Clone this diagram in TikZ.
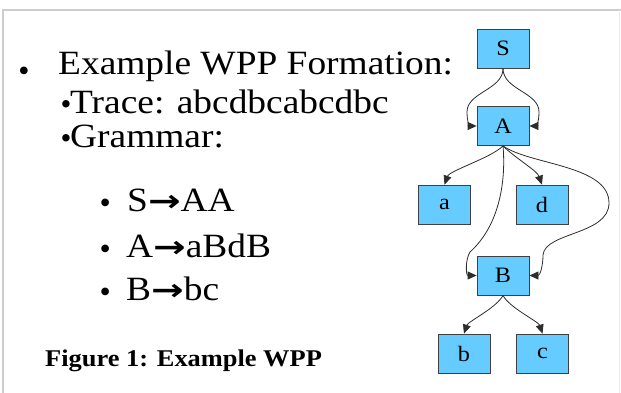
\documentclass[tikz,border=0pt]{standalone}
\usepackage{fontspec}
\setmainfont{Liberation Serif}
\newfontfamily\slidefont[FakeStretch=1.1]{Liberation Serif}
\newfontfamily\arrowfont{DejaVu Sans}
\usetikzlibrary{arrows.meta}
\definecolor{boxblue}{RGB}{102,204,255}
\definecolor{edgegray}{RGB}{45,45,45}
\definecolor{framegray}{RGB}{205,205,205}
\newcommand{\prodarrow}{{\arrowfont\fontsize{30}{30}\selectfont\bfseries\scalebox{1.3}[1]{→}}}
\tikzset{
  gnode/.style={draw=black!75, fill=boxblue, minimum width=52pt, minimum height=39pt,
    inner sep=0pt, line width=0.8pt, font=\slidefont\fontsize{22}{24}\selectfont},
  edge/.style={draw=edgegray, line width=0.8pt, -{Triangle[length=9pt,width=8pt]}},
  lvltext/.style={anchor=base west, inner sep=0pt, font=\slidefont\fontsize{34}{40}\selectfont},
  bulA/.style={anchor=base west, inner sep=0pt, font=\fontsize{32}{34}\selectfont},
  bulB/.style={anchor=base west, inner sep=0pt, font=\fontsize{31}{33}\selectfont},
  captext/.style={anchor=base west, inner sep=0pt, font=\slidefont\bfseries\fontsize{24}{28}\selectfont},
  frameline/.style={draw=framegray, line width=2pt}
}
\begin{document}
\begin{tikzpicture}[x=1pt,y=-1pt]
\useasboundingbox (0,0) rectangle (621,393);
% frame
\draw[frameline] (3,393) -- (3,10) -- (621,10);
\draw[draw=black!8, line width=0.8pt] (619,10) -- (619,393);

% text
\node[bulA] (b1) at (18.1,81.3) {•};
\node[lvltext] (t1) at (58,75) {Example WPP Formation:};
\node[bulB] (b2) at (60.5,114.5) {•};
\node[lvltext] (t2) at (70,113.5) {Trace: abcdbcabcdbc};
\node[bulB] (b3) at (60.5,148.5) {•};
\node[lvltext] (t3) at (70,147.5) {Grammar:};
\node[bulA] (b4) at (99.4,213.6) {•};
\node[lvltext] (t4) at (127,211) {S\prodarrow AA};
\node[bulA] (b5) at (99.4,259.6) {•};
\node[lvltext] (t5) at (126,257) {A\prodarrow aBdB};
\node[bulA] (b6) at (99.4,302.6) {•};
\node[lvltext] (t6) at (126,300) {B\prodarrow bc};
\node[captext] (cap) at (45,366) {Figure 1: Example WPP};

% graph nodes
\node[gnode] (S) at (503,48.5) {S};
\node[gnode] (A) at (503,126) {A};
\node[gnode] (a) at (444.5,204.5) {a};
\node[gnode] (d) at (542,204.5) {d};
\node[gnode] (B) at (503,275.5) {B};
\node[gnode] (b) at (464,353.5) {b};
\node[gnode] (c) at (542.5,353.5) {c};

% edges
\draw[edge] (S.south) .. controls (503,90) and (467,92) .. (467,112)
  .. controls (467,122) and (470,126) .. (A.west);
\draw[edge] (S.south) .. controls (503,90) and (539,92) .. (539,112)
  .. controls (539,122) and (536,126) .. (A.east);
\draw[edge] (A.south) .. controls +(-12,12) and +(5,-14) .. (a.north);
\draw[edge] (A.south) .. controls +(12,12) and +(-5,-14) .. (d.north);
\draw[edge] (A.south) .. controls (506,180) and (500,225) .. (470,252)
  .. controls (465,260) and (466,275.5) .. (B.west);
\draw[edge] (A.south) .. controls (530,165) and (609,165) .. (609,203)
  .. controls (609,235) and (545,232) .. (543,255)
  .. controls (543,266) and (540,275.5) .. (B.east);
\draw[edge] (B.south) .. controls +(-6,12) and +(4,-12) .. (b.north);
\draw[edge] (B.south) .. controls +(6,12) and +(-4,-12) .. (c.north);
\end{tikzpicture}
\end{document}
